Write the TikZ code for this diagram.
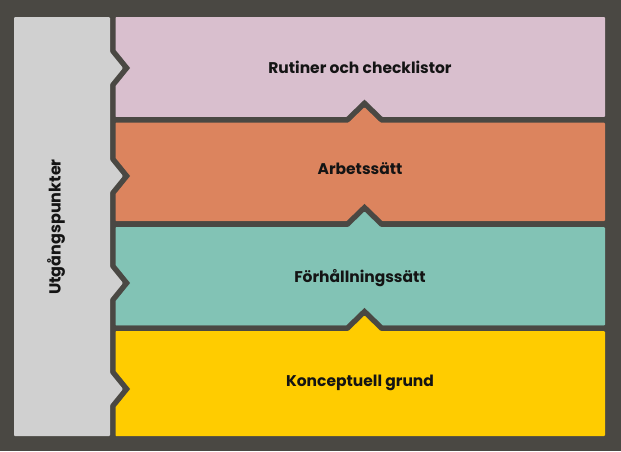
\documentclass[tikz,border=0pt]{standalone}
\usepackage{fontspec}
\setmainfont{Poppins}
\definecolor{bgdark}{RGB}{74,72,67}
\definecolor{cpink}{RGB}{217,191,206}
\definecolor{corange}{RGB}{220,132,94}
\definecolor{cteal}{RGB}{130,195,181}
\definecolor{cyellow}{RGB}{255,204,0}
\definecolor{cgray}{RGB}{208,208,208}
\definecolor{ctext}{RGB}{20,20,20}
\newcommand{\bandpath}[2]{(115,#1) -- (348.5,#1) -- (364.5,#1-15.5) -- (380.5,#1) -- (605,#1) -- (605,#2) -- (115,#2) -- cycle}
\newcommand{\graybump}[1]{-- (110,#1-16) -- (123,#1) -- (110,#1+16)}
\tikzset{
  halo/.style={draw=bgdark, line width=11pt, line join=miter},
  bandfill/.style={fill=#1, draw=none, rounded corners=1pt},
  lbl/.style={font=\bfseries\fontsize{15.5}{18}\selectfont, text=ctext, inner sep=0pt}
}
\begin{document}
\begin{tikzpicture}[x=1pt,y=-1pt]
\useasboundingbox (0,0) rectangle (621,451);
\fill[bgdark] (0,0) rectangle (621,451);
% pink band (no bump)
\fill[bandfill=cpink] (115,17) rectangle (605,117);
% orange
\path[halo] \bandpath{122.7}{221};
\fill[bandfill=corange] \bandpath{122.7}{221};
% teal
\path[halo] \bandpath{227}{325.5};
\fill[bandfill=cteal] \bandpath{227}{325.5};
% yellow
\path[halo] \bandpath{331}{436};
\fill[bandfill=cyellow] \bandpath{331}{436};
% gray bar with bumps
\path[halo] (14,17) -- (110,17) \graybump{68} \graybump{176} \graybump{283} \graybump{389} -- (110,436) -- (14,436) -- cycle;
\fill[cgray, rounded corners=1pt] (14,17) -- (110,17) \graybump{68} \graybump{176} \graybump{283} \graybump{389} -- (110,436) -- (14,436) -- cycle;
\node[lbl] (t1) at (360,67) {Rutiner och checklistor};
\node[lbl] (t2) at (360,169) {Arbetssätt};
\node[lbl] (t3) at (360,278) {Förhållningssätt};
\node[lbl] (t4) at (360,383) {Konceptuell grund};
\node[lbl, font=\bfseries\fontsize{16}{19}\selectfont, rotate=90] (t0) at (56,227) {Utgångspunkter};
\end{tikzpicture}
\end{document}
